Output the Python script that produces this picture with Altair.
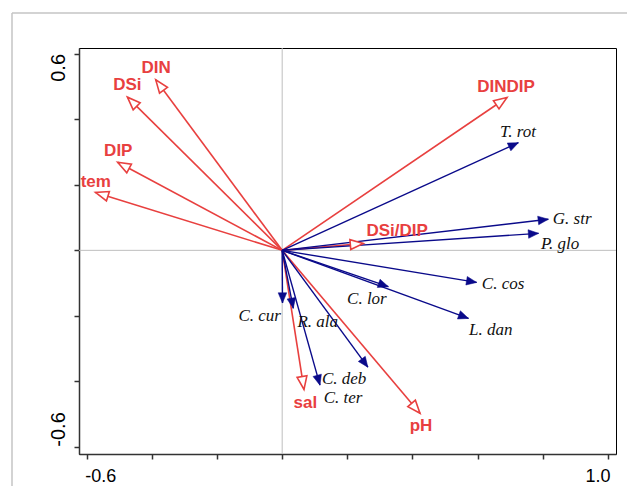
import math
import altair as alt
import pandas as pd

# ---------------- data ----------------
# Environmental variables (red, open arrow heads)
env_names = ["DIN", "DSi", "DIP", "tem", "DINDIP", "DSi/DIP", "sal", "pH"]
env_x = [-0.388, -0.475, -0.505, -0.573, 0.690, 0.249, 0.067, 0.423]
env_y = [0.521, 0.468, 0.269, 0.177, 0.467, 0.021, -0.425, -0.498]
env_label_x = [-0.387, -0.475, -0.503, -0.572, 0.687, 0.353, 0.071, 0.426]
env_label_y = [0.557, 0.505, 0.304, 0.209, 0.500, 0.058, -0.465, -0.537]

# Species (navy, filled arrow heads)
sp_names = ["T. rot", "G. str", "P. glo", "C. cos", "L. dan",
            "C. lor", "C. deb", "C. ter", "R. ala", "C. cur"]
sp_x = [0.725, 0.817, 0.787, 0.597, 0.572, 0.326, 0.263, 0.116, 0.034, 0.001]
sp_y = [0.329, 0.095, 0.052, -0.098, -0.208, -0.111, -0.357, -0.412, -0.177, -0.161]
sp_label_x = [0.724, 0.890, 0.853, 0.678, 0.640, 0.260, 0.190, 0.187, 0.109, -0.069]
sp_label_y = [0.363, 0.096, 0.018, -0.104, -0.244, -0.150, -0.394, -0.452, -0.218, -0.202]

x_ticks = [-0.6, -0.4, -0.2, 0.0, 0.2, 0.4, 0.6, 0.8, 1.0]
y_ticks = [-0.6, -0.4, -0.2, 0.0, 0.2, 0.4, 0.6]
y_tick_labels = ["0.6", "-0.6"]
y_tick_label_values = [0.6, -0.6]

x_domain = [-0.6236, 1.0246]
y_domain = [-0.6223, 0.6183]

# ---------------- layout / style ----------------
W, H = 537, 406
RED = "#E8403F"
NAVY = "#0A0A8A"
kx = W / (x_domain[1] - x_domain[0])
ky = H / (y_domain[1] - y_domain[0])


def screen_angle(dx, dy):
    return (math.degrees(math.atan2(dx * kx, dy * ky)) + 360.0) % 360.0


env = pd.DataFrame({"name": env_names, "x": env_x, "y": env_y,
                    "lx": env_label_x, "ly": env_label_y})
env["x0"] = 0.0
env["y0"] = 0.0
env["angle"] = [screen_angle(a, b) for a, b in zip(env_x, env_y)]

sp = pd.DataFrame({"name": sp_names, "x": sp_x, "y": sp_y,
                   "lx": sp_label_x, "ly": sp_label_y})
sp["x0"] = 0.0
sp["y0"] = 0.0
sp["angle"] = [screen_angle(a, b) for a, b in zip(sp_x, sp_y)]

zero_df = pd.DataFrame({"z": [0.0]})
ylab_df = pd.DataFrame({"v": y_tick_label_values, "t": y_tick_labels})
dummy = pd.DataFrame({"d": [0]})

xs = alt.Scale(domain=x_domain, nice=False, zero=False)
ys = alt.Scale(domain=y_domain, nice=False, zero=False)

xaxis = alt.Axis(values=x_ticks, grid=False, tickSize=5, tickWidth=1.5,
                 tickColor="#333333", domainColor="#333333", domainWidth=1.5,
                 labelExpr="datum.value == 1 ? '1.0' : (datum.value == -0.6 ? '-0.6' : '')",
                 labelFont="Liberation Sans", labelFontSize=18, labelColor="#000000",
                 labelPadding=8, labelFlush=12, labelFlushOffset=2, labelOverlap=False)
yaxis = alt.Axis(values=y_ticks, grid=False, tickSize=5, tickWidth=1.5,
                 tickColor="#333333", domainColor="#333333", domainWidth=1.5,
                 labels=False)


def X(field):
    return alt.X(field, type="quantitative", scale=xs, axis=xaxis, title=None)


def Y(field):
    return alt.Y(field, type="quantitative", scale=ys, axis=yaxis, title=None)


# outer light-grey figure frame
frame_v = alt.Chart(dummy).mark_rule(color="#C4C4C4", strokeWidth=1.5).encode(
    x=alt.value(-67), y=alt.value(-35), y2=alt.value(470))
frame_h = alt.Chart(dummy).mark_rule(color="#C4C4C4", strokeWidth=1.5).encode(
    x=alt.value(-67), x2=alt.value(620), y=alt.value(-35))

zero_v = alt.Chart(zero_df).mark_rule(color="#BEBEBE", strokeWidth=1).encode(x=X("z"))
zero_h = alt.Chart(zero_df).mark_rule(color="#BEBEBE", strokeWidth=1).encode(y=Y("z"))

env_lines = alt.Chart(env).mark_rule(color=RED, strokeWidth=1.6).encode(
    x=X("x0"), y=Y("y0"), x2="x", y2="y")
sp_lines = alt.Chart(sp).mark_rule(color=NAVY, strokeWidth=1.4).encode(
    x=X("x0"), y=Y("y0"), x2="x", y2="y")

env_heads = alt.Chart(env).mark_point(
    shape="M0,0L-0.38,1L0.38,1Z", size=676, filled=True, fill="white",
    stroke=RED, strokeWidth=1.6, opacity=1).encode(
    x=X("x"), y=Y("y"), angle=alt.Angle("angle:Q", scale=None))
sp_heads = alt.Chart(sp).mark_point(
    shape="M0,0L-0.42,1L0.42,1Z", size=420, filled=True, fill=NAVY,
    stroke=NAVY, strokeWidth=0.5, opacity=1).encode(
    x=X("x"), y=Y("y"), angle=alt.Angle("angle:Q", scale=None))

env_text = alt.Chart(env).mark_text(
    font="Liberation Sans", fontWeight="bold", fontSize=17, color=RED,
    align="center", baseline="middle").encode(x=X("lx"), y=Y("ly"), text="name:N")
sp_text = alt.Chart(sp).mark_text(
    font="Liberation Serif", fontStyle="italic", fontSize=17, color="#111111",
    align="center", baseline="middle").encode(x=X("lx"), y=Y("ly"), text="name:N")

ylab_top = alt.Chart(ylab_df).transform_filter("datum.v > 0").mark_text(
    angle=270, align="right", baseline="alphabetic", fontSize=20,
    font="Liberation Sans", color="#000000").encode(
    x=alt.value(-14), y=Y("v"), text="t:N")
ylab_bot = alt.Chart(ylab_df).transform_filter("datum.v < 0").mark_text(
    angle=270, align="left", baseline="alphabetic", fontSize=20,
    font="Liberation Sans", color="#000000").encode(
    x=alt.value(-14), y=Y("v"), text="t:N")

chart = alt.layer(
    frame_v, frame_h, zero_v, zero_h,
    env_lines, sp_lines, sp_heads, env_heads,
    env_text, sp_text, ylab_top, ylab_bot,
).properties(
    width=W, height=H,
    autosize=alt.AutoSizeParams(type="none"),
    padding={"left": 71, "top": 40, "right": 11, "bottom": 32},
    background="white",
).configure_view(stroke="#000000", strokeWidth=1)

chart.save("out.html", embed_options={"renderer": "svg", "actions": False})
